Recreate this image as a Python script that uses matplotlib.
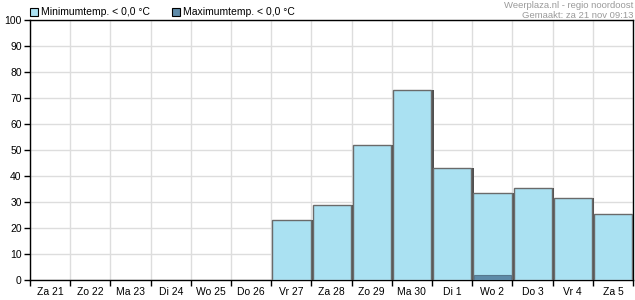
import matplotlib.pyplot as plt
from matplotlib.patches import Rectangle
import matplotlib

matplotlib.rcParams['font.family'] = ['Liberation Sans', 'DejaVu Sans']

# ── Data ──
dagen = ['Za 21', 'Zo 22', 'Ma 23', 'Di 24', 'Wo 25', 'Do 26', 'Vr 27', 'Za 28',
         'Zo 29', 'Ma 30', 'Di 1', 'Wo 2', 'Do 3', 'Vr 4', 'Za 5']
min_temp = [0, 0, 0, 0, 0, 0, 23, 28.8, 52, 73, 43, 33.5, 35.5, 31.5, 25.5]
max_temp = [0, 0, 0, 0, 0, 0, 0, 0, 0, 0, 0, 1.8, 0, 0, 0]

kleur_min = '#aae1f2'
kleur_max = '#5e8aa8'
kleur_rand = '#6a6a6a'

fig = plt.figure(figsize=(6.35, 3.0), dpi=100)
ax = fig.add_axes([30 / 635, 20 / 300, 603 / 635, 260 / 300])

n = len(dagen)
breedte = 0.95
for i, (mn, mx) in enumerate(zip(min_temp, max_temp)):
    x0 = i - breedte / 2 + 0.005
    if mn > 0:
        # schaduw rechts
        ax.add_patch(Rectangle((x0 + 0.06, 0), breedte, mn, facecolor='#505050',
                               edgecolor='none', zorder=2))
        ax.add_patch(Rectangle((x0, 0), breedte, mn, facecolor=kleur_min,
                               edgecolor=kleur_rand, linewidth=1.0, zorder=3))
    if mx > 0:
        ax.add_patch(Rectangle((x0 + 0.02, 0), breedte - 0.04, mx, facecolor=kleur_max,
                               edgecolor='#56788e', linewidth=0.8, zorder=4))

ax.set_xlim(-0.5, n - 0.5)
ax.set_ylim(0, 100)

ax.set_yticks(range(0, 101, 10))
ax.set_xticks([i - 0.5 for i in range(n + 1)], minor=False)
ax.set_xticklabels([])
ax.set_xticks(range(n), minor=True)
ax.set_xticklabels(dagen, minor=True)
ax.tick_params(axis='x', which='minor', length=0, labelsize=7.5, pad=5)
ax.tick_params(axis='x', which='major', length=4, width=1, direction='out', color='black')
ax.tick_params(axis='y', length=4, width=1, direction='out', labelsize=7.5, pad=2)

ax.grid(True, which='major', color='#dddddd', linewidth=1, zorder=0)
ax.set_axisbelow(True)
for s in ax.spines.values():
    s.set_color('black')
    s.set_linewidth(1)

# ── Legenda ──
fig.patches.append(Rectangle((30 / 635, 1 - 16 / 300), 8 / 635, 8 / 300,
                             transform=fig.transFigure, facecolor=kleur_min,
                             edgecolor='black', linewidth=0.8))
fig.text(41 / 635, 1 - 12 / 300, 'Minimumtemp. < 0,0 °C', fontsize=7.5, va='center')
fig.patches.append(Rectangle((172 / 635, 1 - 16 / 300), 8 / 635, 8 / 300,
                             transform=fig.transFigure, facecolor=kleur_max,
                             edgecolor='black', linewidth=0.8))
fig.text(183 / 635, 1 - 12 / 300, 'Maximumtemp. < 0,0 °C', fontsize=7.5, va='center')

# ── Bron ──
fig.text(633 / 635, 1 - 1 / 300, 'Weerplaza.nl - regio noordoost\nGemaakt: za 21 nov 09:13',
         fontsize=6.8, color='#9a9a9a', ha='right', va='top', linespacing=1.15)

plt.savefig('out.png', dpi=100)
